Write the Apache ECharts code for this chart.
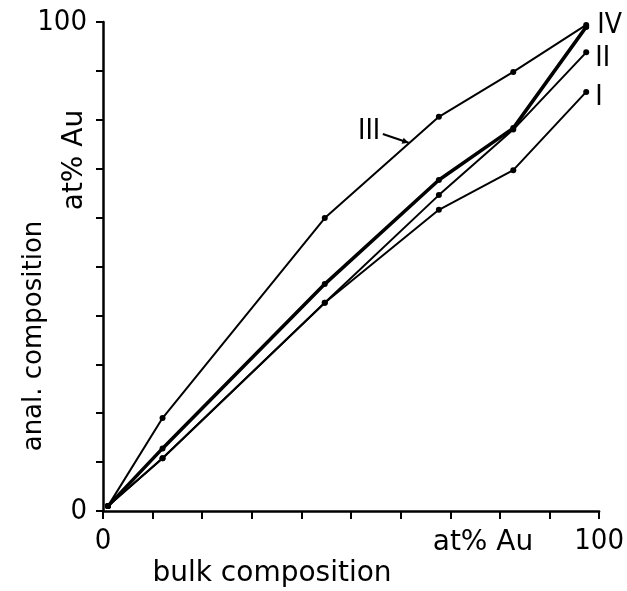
<!DOCTYPE html>
<html>
<head>
<meta charset="utf-8">
<script src="https://cdn.jsdelivr.net/npm/echarts@6/dist/echarts.min.js"></script>
<style>
html,body{margin:0;padding:0;background:#fff;}
#chart{width:627px;height:591px;}
</style>
</head>
<body>
<div id="chart"></div>
<script>
// Data
var bulk = [1, 12, 44.7, 67.7, 82.7, 97.4];
var seriesI = [1, 10.8, 42.6, 61.6, 69.7, 85.7];
var seriesII = [1, 10.8, 42.6, 64.6, 78.0, 93.8];
var seriesIII = [1, 19.0, 59.9, 80.6, 89.8, 99.4];
var seriesIV = [1, 12.8, 46.4, 67.7, 78.3, 99.0];
var seriesNames = ['I', 'II', 'III', 'IV'];
var axisTickLabels = [0, 100];

var txtFont = '"DejaVu Sans", sans-serif';
var numFont = '"Liberation Sans Narrow", "DejaVu Sans Condensed", sans-serif';

function pairs(ys) { return bulk.map(function (x, i) { return [x, ys[i]]; }); }

var chart = echarts.init(document.getElementById('chart'), null, {renderer: 'canvas'});

function mk(name, ys, width, endOffset, showEnd) {
  return {
    name: name,
    type: 'line',
    data: pairs(ys),
    symbol: 'circle',
    symbolSize: 6,
    showSymbol: true,
    lineStyle: {color: '#000', width: width},
    itemStyle: {color: '#000'},
    z: width > 2.5 ? 3 : 2,
    animation: false,
    endLabel: {
      show: showEnd,
      formatter: name,
      color: '#000',
      fontFamily: numFont,
      fontSize: 28,
      distance: 9,
      offset: endOffset
    }
  };
}

var option = {
  animation: false,
  backgroundColor: '#fff',
  grid: {left: 103, right: 24, top: 22, bottom: 80, containLabel: false},
  xAxis: {
    type: 'value', min: 0, max: 100, interval: 10,
    axisLine: {show: true, lineStyle: {color: '#000', width: 2.5}},
    axisTick: {show: true, length: 8, lineStyle: {color: '#000', width: 2}},
    splitLine: {show: false},
    axisLabel: {
      margin: 16, color: '#000', fontFamily: numFont, fontSize: 29,
      formatter: function (v) { return axisTickLabels.indexOf(v) >= 0 ? String(v) : ''; }
    }
  },
  yAxis: {
    type: 'value', min: 0, max: 100, interval: 10,
    axisLine: {show: true, lineStyle: {color: '#000', width: 2.5}},
    axisTick: {show: true, length: 7, lineStyle: {color: '#000', width: 2}},
    splitLine: {show: false},
    axisLabel: {
      margin: 16, color: '#000', fontFamily: numFont, fontSize: 29,
      formatter: function (v) { return axisTickLabels.indexOf(v) >= 0 ? String(v) : ''; }
    }
  },
  series: [
    mk(seriesNames[0], seriesI, 2, [0, 6], true),
    mk(seriesNames[1], seriesII, 2, [0, 6], true),
    mk(seriesNames[2], seriesIII, 2, [0, 0], false),
    mk(seriesNames[3], seriesIV, 3.5, [2, -1], true)
  ]
};
chart.setOption(option);

// annotations positioned through the axes
var arrowFrom = chart.convertToPixel({gridIndex: 0}, [56.4, 77.1]);
var arrowTo = chart.convertToPixel({gridIndex: 0}, [61.6, 75.3]);
var ang = Math.atan2(arrowTo[1] - arrowFrom[1], arrowTo[0] - arrowFrom[0]);
var ah = 7;
var a1 = [arrowTo[0] - ah * Math.cos(ang - 0.45), arrowTo[1] - ah * Math.sin(ang - 0.45)];
var a2 = [arrowTo[0] - ah * Math.cos(ang + 0.45), arrowTo[1] - ah * Math.sin(ang + 0.45)];

chart.setOption({
  graphic: [
    {type: 'text', left: 358, top: 118, style: {text: 'III', font: '28px ' + numFont, fill: '#000'}},
    {type: 'line', shape: {x1: arrowFrom[0], y1: arrowFrom[1], x2: arrowTo[0], y2: arrowTo[1]}, style: {stroke: '#000', lineWidth: 2}},
    {type: 'polygon', shape: {points: [arrowTo, a1, a2]}, style: {fill: '#000'}},
    {type: 'text', x: 483, y: 543, style: {text: 'at% Au', font: '28px ' + txtFont, fill: '#000', align: 'center', verticalAlign: 'middle'}},
    {type: 'text', x: 272, y: 574, style: {text: 'bulk composition', font: '28px ' + txtFont, fill: '#000', align: 'center', verticalAlign: 'middle'}},
    {type: 'text', x: 34, y: 336, rotation: Math.PI / 2, style: {text: 'anal. composition', font: '26px ' + txtFont, fill: '#000', align: 'center', verticalAlign: 'middle'}},
    {type: 'text', x: 75, y: 160, rotation: Math.PI / 2, style: {text: 'at% Au', font: '28px ' + txtFont, fill: '#000', align: 'center', verticalAlign: 'middle'}}
  ]
});
</script>
</body>
</html>
